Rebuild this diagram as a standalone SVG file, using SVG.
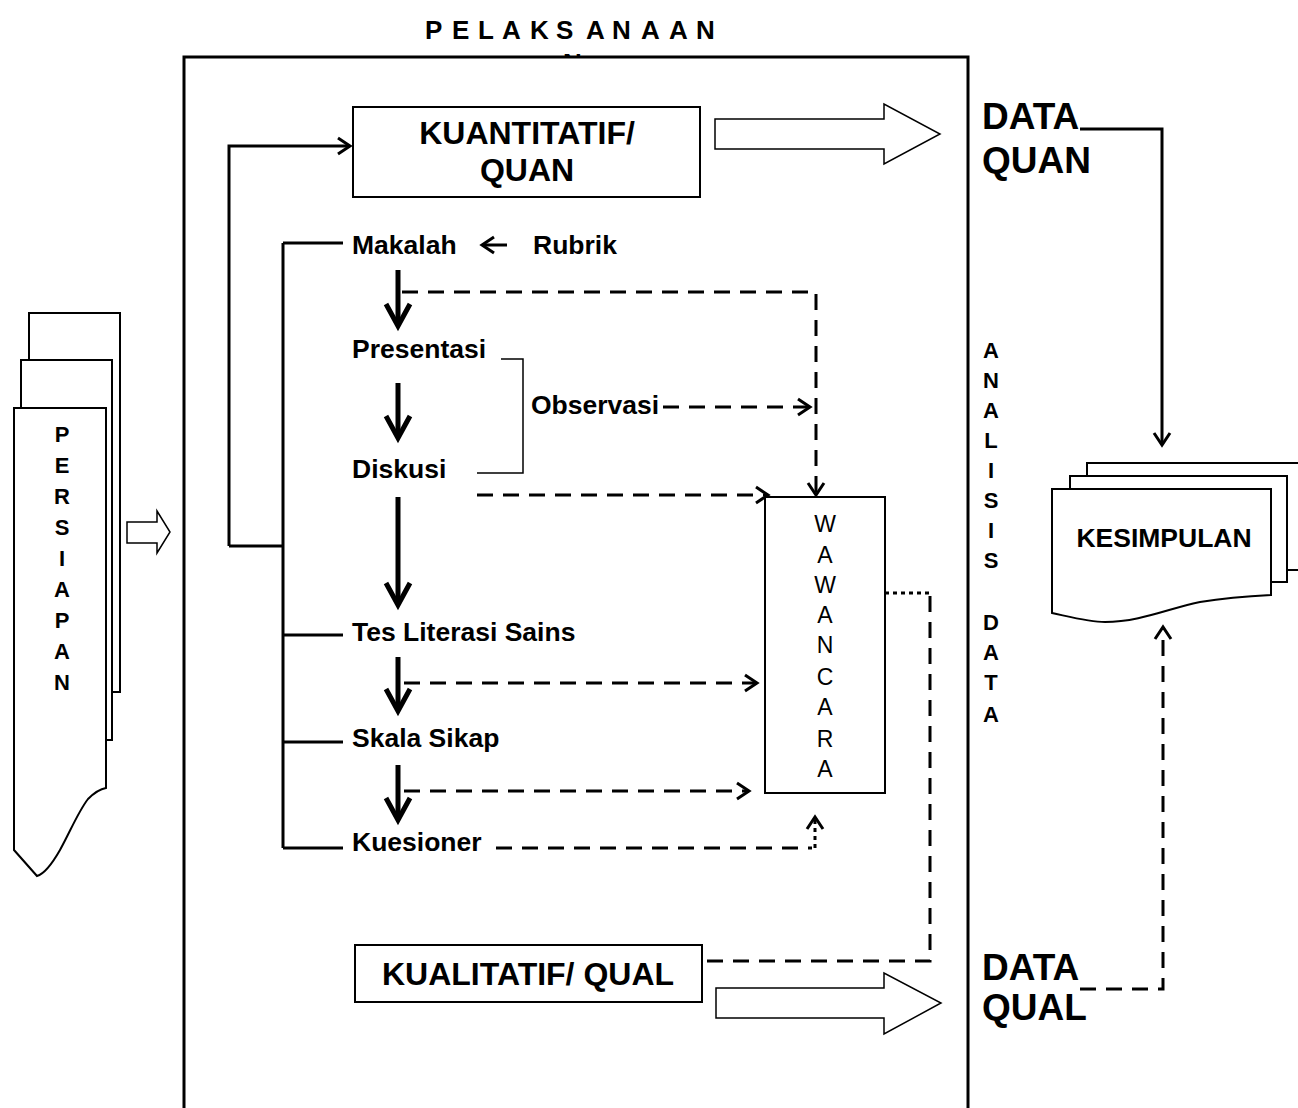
<svg xmlns="http://www.w3.org/2000/svg" width="1298" height="1108" viewBox="0 0 1298 1108">
<defs>
<style>
text{font-family:"Liberation Sans",Arial,sans-serif;fill:#000}
.b{font-weight:bold}
.lbl{font-size:26.5px;font-weight:bold}
.big{font-size:37px;font-weight:bold}
.box{font-size:32px;font-weight:bold}
.vert{font-size:22px;font-weight:bold}
.ln{fill:none;stroke:#000;stroke-width:3}
.thk{fill:none;stroke:#000;stroke-width:5}
.thin{fill:none;stroke:#000;stroke-width:1.5}
.dash{fill:none;stroke:#000;stroke-width:3;stroke-dasharray:16 10}
.dot{fill:none;stroke:#000;stroke-width:3;stroke-dasharray:4 4}
.shape{fill:#fff;stroke:#000;stroke-width:2}
.hollow{fill:#fff;stroke:#000;stroke-width:1.5}
</style>
<marker id="ah" markerUnits="userSpaceOnUse" viewBox="-16 -12 20 24" markerWidth="20" markerHeight="24" refX="0" refY="0" orient="auto" overflow="visible">
<path d="M-12,-8 L0,0 L-12,8" fill="none" stroke="#000" stroke-width="3"/>
</marker>
<marker id="ahk" markerUnits="userSpaceOnUse" viewBox="-26 -16 30 32" markerWidth="30" markerHeight="32" refX="0" refY="0" orient="auto" overflow="visible">
<path d="M-22,-12 L0,0 L-22,12" fill="none" stroke="#000" stroke-width="5"/>
</marker>
</defs>
<rect width="1298" height="1108" fill="#fff"/>

<g id="title">
<text class="b" font-size="26" y="39" x="425 440 452 466 478 491 502 517 530 545 556 572 586 600 612 627 641 655 669 696">P E L A K S A N A AN</text>
<text class="b" font-size="26" x="563" y="72">N</text>
</g>

<g id="pelaksanaan-frame">
<rect x="184" y="57" width="784" height="1100" fill="#fff" stroke="#000" stroke-width="3"/>
</g>

<g id="persiapan">
<rect x="29" y="313" width="91" height="379" class="shape"/>
<rect x="21" y="360" width="91" height="380" class="shape"/>
<path d="M14,408 H106 V788 C100,789 94,793 88,799 C78,812 70,832 60,850 C52,864 44,874 37,876 L14,850 Z" class="shape"/>
<text class="vert" text-anchor="middle">
<tspan x="62" y="442">P</tspan><tspan x="62" y="473">E</tspan><tspan x="62" y="504">R</tspan><tspan x="62" y="535">S</tspan><tspan x="62" y="566">I</tspan><tspan x="62" y="597">A</tspan><tspan x="62" y="628">P</tspan><tspan x="62" y="659">A</tspan><tspan x="62" y="690">N</tspan>
</text>
</g>

<g id="arrow-persiapan">
<path d="M127,522 H157 V511 L170,532 L157,553 V543 H127 Z" class="hollow"/>
</g>

<g id="kuantitatif">
<rect x="353" y="107" width="347" height="90" class="shape"/>
<text class="box" text-anchor="middle" x="527" y="144">KUANTITATIF/</text>
<text class="box" text-anchor="middle" x="527" y="181">QUAN</text>
</g>

<g id="arrow-quan">
<path d="M715,119 H884 V104 L940,134 L884,164 V149 H715 Z" class="hollow"/>
</g>

<g id="data-quan">
<text class="big" x="982" y="129">DATA</text>
<text class="big" x="982" y="173">QUAN</text>
</g>

<g id="analisis-data">
<text class="vert" text-anchor="middle">
<tspan x="991" y="358">A</tspan><tspan x="991" y="388">N</tspan><tspan x="991" y="418">A</tspan><tspan x="991" y="448">L</tspan><tspan x="991" y="478">I</tspan><tspan x="991" y="508">S</tspan><tspan x="991" y="538">I</tspan><tspan x="991" y="568">S</tspan><tspan x="991" y="630">D</tspan><tspan x="991" y="660">A</tspan><tspan x="991" y="690">T</tspan><tspan x="991" y="722">A</tspan>
</text>
</g>

<g id="makalah"><text class="lbl" x="352" y="254">Makalah</text></g>
<g id="rubrik"><text class="lbl" x="533" y="254">Rubrik</text></g>
<g id="presentasi"><text class="lbl" x="352" y="358">Presentasi</text></g>
<g id="observasi"><text class="lbl" x="531" y="414">Observasi</text></g>
<g id="diskusi"><text class="lbl" x="352" y="478">Diskusi</text></g>
<g id="tes"><text class="lbl" x="352" y="641">Tes Literasi Sains</text></g>
<g id="skala"><text class="lbl" x="352" y="747">Skala Sikap</text></g>
<g id="kuesioner"><text class="lbl" x="352" y="851">Kuesioner</text></g>

<g id="wawancara">
<rect x="765" y="497" width="120" height="296" class="shape"/>
<text font-size="23" text-anchor="middle">
<tspan x="825" y="532">W</tspan><tspan x="825" y="563">A</tspan><tspan x="825" y="593">W</tspan><tspan x="825" y="623">A</tspan><tspan x="825" y="653">N</tspan><tspan x="825" y="685">C</tspan><tspan x="825" y="715">A</tspan><tspan x="825" y="747">R</tspan><tspan x="825" y="777">A</tspan>
</text>
</g>

<g id="kualitatif">
<rect x="355" y="945" width="347" height="57" class="shape"/>
<text class="box" text-anchor="middle" x="528" y="985">KUALITATIF/ QUAL</text>
</g>

<g id="arrow-qual">
<path d="M716,988 H884 V973 L941,1003 L884,1034 V1018 H716 Z" class="hollow"/>
</g>

<g id="data-qual">
<text class="big" x="982" y="980">DATA</text>
<text class="big" x="982" y="1020">QUAL</text>
</g>

<g id="kesimpulan">
<rect x="1087" y="463" width="240" height="107" class="shape"/>
<rect x="1070" y="476" width="217" height="106" class="shape"/>
<path d="M1052,489 H1271 V595 C1250,596 1230,597 1200,602 C1170,608 1140,622 1105,622 C1090,622 1075,618 1052,613 Z" class="shape"/>
<text class="lbl" text-anchor="middle" x="1164" y="547">KESIMPULAN</text>
</g>

<g id="connectors">
<path d="M229,546 V146 H350" class="ln" marker-end="url(#ah)"/>
<path d="M229,546 H283" class="ln"/>
<path d="M283,243 V848" class="ln"/>
<path d="M283,243 H343 M283,635 H343 M283,742 H343 M283,848 H343" class="ln"/>
<path d="M507,245 H482" class="ln" marker-end="url(#ah)"/>
<path d="M398,270 V326" class="thk" marker-end="url(#ahk)"/>
<path d="M398,383 V438" class="thk" marker-end="url(#ahk)"/>
<path d="M398,497 V605" class="thk" marker-end="url(#ahk)"/>
<path d="M398,657 V711" class="thk" marker-end="url(#ahk)"/>
<path d="M398,765 V820" class="thk" marker-end="url(#ahk)"/>
<path d="M501,359 H523 V473 H477" class="thin"/>
<path d="M402,292 H816 V495" class="dash" marker-end="url(#ah)"/>
<path d="M663,407 H810" class="dash" marker-end="url(#ah)"/>
<path d="M477,495 H768" class="dash" marker-end="url(#ah)"/>
<path d="M404,683 H757" class="dash" marker-end="url(#ah)"/>
<path d="M404,791 H749" class="dash" marker-end="url(#ah)"/>
<path d="M496,848 H812" class="dash"/>
<path d="M815,848 V817" class="dot" marker-end="url(#ah)"/>
<path d="M885,593 H930" class="dot"/>
<path d="M930,596 V961 H702" class="dash"/>
<path d="M1080,129 H1162 V445" class="ln" marker-end="url(#ah)"/>
<path d="M1080,989 H1163 V627" class="dash" marker-end="url(#ah)"/>
</g>
</svg>
